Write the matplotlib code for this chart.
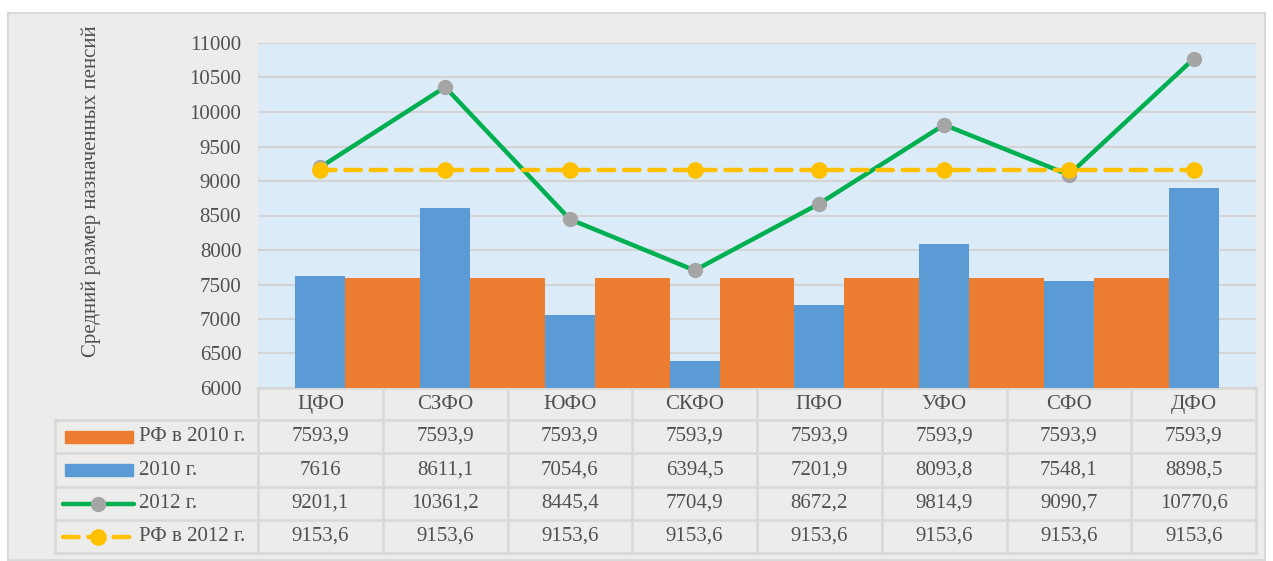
import matplotlib.pyplot as plt
import numpy as np
from matplotlib.patches import Rectangle
from matplotlib.lines import Line2D

regions = ["ЦФО", "СЗФО", "ЮФО", "СКФО", "ПФО", "УФО", "СФО", "ДФО"]
rf_2010 = [7593.9, 7593.9, 7593.9, 7593.9, 7593.9, 7593.9, 7593.9, 7593.9]
val_2010 = [7616, 8611.1, 7054.6, 6394.5, 7201.9, 8093.8, 7548.1, 8898.5]
val_2012 = [9201.1, 10361.2, 8445.4, 7704.9, 8672.2, 9814.9, 9090.7, 10770.6]
rf_2012 = [9153.6, 9153.6, 9153.6, 9153.6, 9153.6, 9153.6, 9153.6, 9153.6]
row_names = ["РФ в 2010 г.", "2010 г.", "2012 г.", "РФ в 2012 г."]

plt.rcParams['font.family'] = ['Liberation Serif', 'DejaVu Serif']

W, H = 1273, 561
fig = plt.figure(figsize=(W / 100, H / 100), dpi=100, facecolor="white")

# pixel-coordinate background axes for chart frame and data table
bg = fig.add_axes([0, 0, 1, 1])
bg.set_xlim(0, W)
bg.set_ylim(H, 0)
bg.axis("off")
bg.add_patch(Rectangle((8, 13), 1257, 547, facecolor="#ececea", edgecolor="#d9d9d9", lw=1.5))

left, right, top, bottom = 258, 1256, 43, 388
ax = fig.add_axes([left / W, (H - bottom) / H, (right - left) / W, (bottom - top) / H])
ax.set_facecolor("#dcebf8")
x = np.arange(len(regions))

ax.bar(x[:-1] + 0.5, rf_2010[:-1], width=0.6, color="#ed7d31", zorder=2)
ax.bar(x, val_2010, width=0.4, color="#5b9bd5", zorder=3)
ax.plot(x, val_2012, color="#00b050", lw=3.2, marker="o", ms=10,
        mfc="#a5a5a5", mec="#a5a5a5", zorder=4)
ax.plot(x, rf_2012, color="#ffc000", lw=3.2, ls=(0, (3.5, 2.2)), dash_capstyle="round",
        marker="o", ms=11, mfc="#ffc000", mec="#ffc000", zorder=5)

tc = "#505050"
ax.set_xlim(-0.5, 7.5)
ax.set_ylim(6000, 11000)
ax.set_yticks(np.arange(6000, 11001, 500))
ax.set_xticks([])
ax.yaxis.grid(True, color="#d4d4d4", lw=1.5, zorder=1)
ax.set_axisbelow(True)
ax.tick_params(axis="y", length=0, pad=12, labelsize=15, labelcolor=tc)
for s in ax.spines.values():
    s.set_visible(False)
ax.set_ylabel("Средний размер назначенных пенсий", fontsize=15, color=tc)
ax.yaxis.set_label_coords(-157 / (right - left), 0.57)

# data table
lc = "#d9d9d9"
col_w = (right - left) / len(regions)
row_y = [388, 420, 453, 487, 520, 553]
for y in row_y[1:]:
    bg.plot([55, right], [y, y], color=lc, lw=2)
bg.plot([left, right], [row_y[0], row_y[0]], color=lc, lw=2)
bg.plot([55, 55], [row_y[1], row_y[-1]], color=lc, lw=2)
for i in range(len(regions) + 1):
    xv = left + i * col_w
    bg.plot([xv, xv], [row_y[0], row_y[-1]], color=lc, lw=2)

for i, r in enumerate(regions):
    cx = left + (i + 0.5) * col_w
    bg.text(cx, (row_y[0] + row_y[1]) / 2, r, ha="center", va="center", fontsize=15, color=tc)
    for j, series in enumerate([rf_2010, val_2010, val_2012, rf_2012]):
        txt = ("%g" % series[i]).replace(".", ",")
        bg.text(cx, (row_y[j + 1] + row_y[j + 2]) / 2, txt, ha="center", va="center",
                fontsize=15, color=tc)

for j, name in enumerate(row_names):
    cy = (row_y[j + 1] + row_y[j + 2]) / 2
    bg.text(139, cy, name, ha="left", va="center", fontsize=15, color=tc)
    if j == 0:
        bg.add_patch(Rectangle((65, cy - 6), 68, 12, color="#ed7d31"))
    elif j == 1:
        bg.add_patch(Rectangle((65, cy - 6), 68, 12, color="#5b9bd5"))
    elif j == 2:
        bg.add_line(Line2D([63, 134], [cy, cy], color="#00b050", lw=3.2, solid_capstyle="round"))
        bg.plot([98], [cy], marker="o", ms=10, color="#a5a5a5")
    else:
        bg.add_line(Line2D([63, 134], [cy, cy], color="#ffc000", lw=3.2,
                           ls=(0, (3.5, 2.2)), dash_capstyle="round"))
        bg.plot([98], [cy], marker="o", ms=11, color="#ffc000")

fig.savefig("out.png", dpi=100, facecolor=fig.get_facecolor())
